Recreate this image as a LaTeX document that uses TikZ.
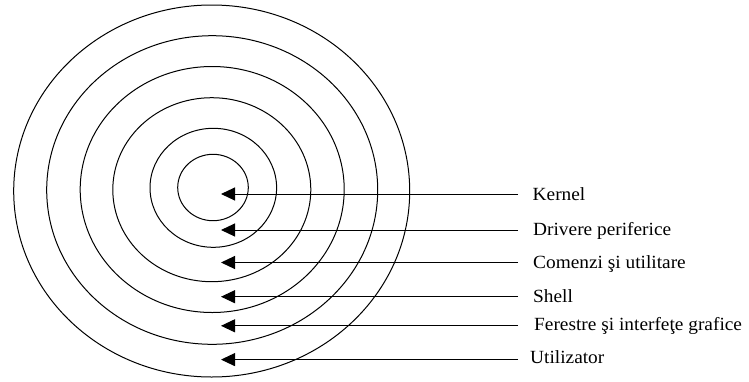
\documentclass[tikz,border=0pt]{standalone}
\usepackage{fontspec}
\setmainfont{Liberation Serif}[FakeStretch=1.04]
\usetikzlibrary{arrows.meta}
\begin{document}
\begin{tikzpicture}[x=1pt,y=-1pt,
  ring/.style={draw=black, line width=1pt},
  lbl/.style={anchor=base west, inner sep=0pt, font=\fontsize{18.6}{20}\selectfont},
  ptr/.style={draw=black, line width=1pt, -{Triangle[length=14pt,width=13pt]}}]
\useasboundingbox (0,0) rectangle (749,381);
% concentric rings
\draw[ring] (211.7,191) ellipse [x radius=198pt, y radius=186pt];
\draw[ring] (212.2,190) ellipse [x radius=165.5pt, y radius=154.3pt];
\draw[ring] (212.2,189.5) ellipse [x radius=132pt, y radius=123pt];
\draw[ring] (211.8,189.7) ellipse [x radius=99pt, y radius=92pt];
\draw[ring] (213.3,187.8) ellipse [x radius=63.3pt, y radius=59.5pt];
\draw[ring] (213,187.5) ellipse [x radius=35.3pt, y radius=33.2pt];
% labels
\node[lbl] (l1) at (532.5,200.6) {Kernel};
\node[lbl] (l2) at (533,235.2) {Drivere periferice};
\node[lbl] (l3) at (533,268) {Comenzi şi utilitare};
\node[lbl] (l4) at (533,302) {Shell};
\node[lbl] (l5) at (534,330.7) {Ferestre şi interfeţe grafice};
\node[lbl] (l6) at (530,363.5) {Utilizator};
% line starts and tips
\foreach \i/\y in {1/194,2/230,3/262.5,4/296.7,5/325.8,6/359.6}{
  \coordinate (s\i) at (518,\y);
  \coordinate (t\i) at (221,\y);
}
\foreach \i in {1,...,6}{ \draw[ptr] (s\i) -- (t\i); }
\end{tikzpicture}
\end{document}
